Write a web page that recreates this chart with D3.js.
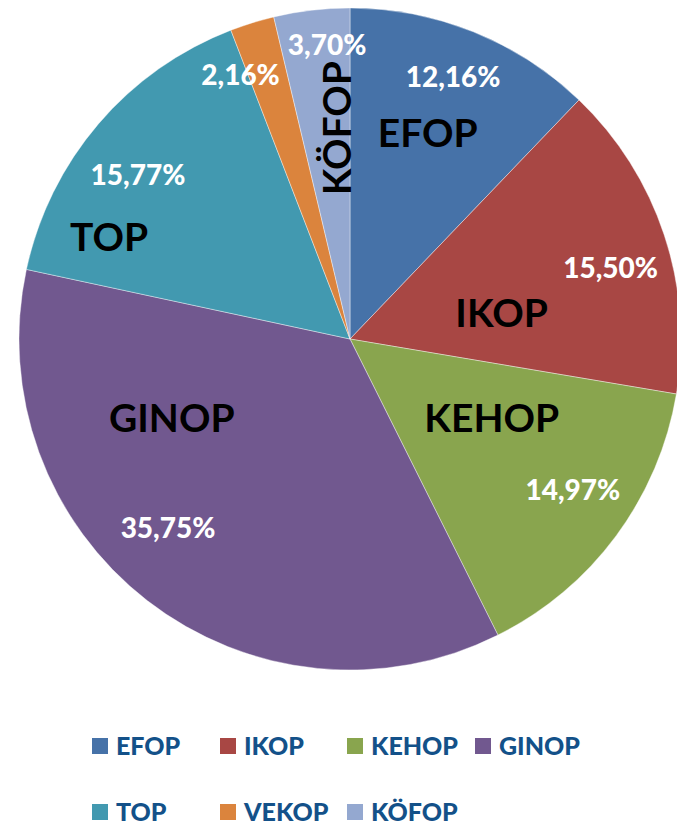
<!DOCTYPE html>
<html>
<head>
<meta charset="utf-8">
<script src="https://cdn.jsdelivr.net/npm/d3@7"></script>
<style>
    body { margin: 0; background: #fff; }
    svg { display: block; font-family: Lato, "Open Sans", sans-serif; font-weight: bold; }
</style>
</head>
<body>
<div id="chart"></div>
<script>
// data
var categories = ["EFOP", "IKOP", "KEHOP", "GINOP", "TOP", "VEKOP", "KÖFOP"];
var shares = [12.16, 15.50, 14.97, 35.75, 15.77, 2.16, 3.70];
var colors = ["#4672A8", "#A84744", "#89A54E", "#71588F", "#4299B0", "#DB843D", "#94A8D0"];
var pctLabels = ["12,16%", "15,50%", "14,97%", "35,75%", "15,77%", "2,16%", "3,70%"];

// label placement: [angle offset from slice middle (deg), radius fraction]
var pctPlace = [[-0.4, 0.85], [3.1, 0.816], [-2.4, 0.813], [6.1, 0.793], [-2.8, 0.81], [-5.3, 0.864], [2.2, 0.89]];
var namePlace = [[-1.2, 0.665], [8.4, 0.465], [-7.4, 0.49], [28.3, 0.589], [-17.6, 0.79], null, [3.2, 0.638]];

(function() {
    var width = 677, height = 826;
    var cx = 350, cy = 339, R = 331;

    var svg = d3.select("#chart").append("svg")
        .attr("width", width)
        .attr("height", height);

    var g = svg.append("g")
        .attr("transform", "translate(" + cx + "," + cy + ")");

    var pie = d3.pie().sort(null).value(d => d.value);
    var arc = d3.arc().innerRadius(0).outerRadius(R);

    var data = categories.map((c, i) => ({name: c, value: shares[i], color: colors[i], pct: pctLabels[i], idx: i}));
    var arcs = pie(data);

    g.selectAll(".slice")
        .data(arcs)
        .enter().append("path")
        .attr("class", "slice")
        .attr("d", arc)
        .style("fill", d => d.data.color)
        .style("stroke", "#ffffff")
        .style("stroke-opacity", 0.5)
        .style("stroke-width", 0.8);

    function polar(d, place) {
        var a = (d.startAngle + d.endAngle) / 2 + place[0] * Math.PI / 180;
        var r = place[1] * R;
        return [Math.sin(a) * r, -Math.cos(a) * r];
    }

    // percentage labels
    g.selectAll(".pct")
        .data(arcs)
        .enter().append("text")
        .attr("class", "pct")
        .attr("transform", d => "translate(" + polar(d, pctPlace[d.data.idx]) + ")")
        .attr("text-anchor", "middle")
        .attr("dy", "0.36em")
        .style("font-size", "28px")
        .style("font-weight", 900)
        .style("fill", "#ffffff")
        .text(d => d.data.pct);

    // category labels
    g.selectAll(".name")
        .data(arcs.filter(d => namePlace[d.data.idx]))
        .enter().append("text")
        .attr("class", "name")
        .attr("transform", function(d) {
            var p = polar(d, namePlace[d.data.idx]);
            var rot = d.data.name === "KÖFOP" ? " rotate(-90)" : "";
            return "translate(" + p + ")" + rot;
        })
        .attr("text-anchor", "middle")
        .attr("dy", "0.36em")
        .style("font-size", "39px")
        .style("fill", "#000000")
        .text(d => d.data.name);

    // legend
    var colX = [92, 220, 347, 475];
    var rowY = [755, 821];
    var legend = svg.selectAll(".legend")
        .data(data)
        .enter().append("g")
        .attr("class", "legend")
        .attr("transform", (d, i) => "translate(" + colX[i % 4] + "," + rowY[Math.floor(i / 4)] + ")");

    legend.append("rect")
        .attr("x", 0)
        .attr("y", -17)
        .attr("width", 16)
        .attr("height", 16)
        .style("fill", d => d.color);

    legend.append("text")
        .attr("x", 24)
        .attr("y", 0)
        .style("font-size", "25px")
        .style("font-weight", 900)
        .style("fill", "#135189")
        .text(d => d.name);
})();
</script>
</body>
</html>
